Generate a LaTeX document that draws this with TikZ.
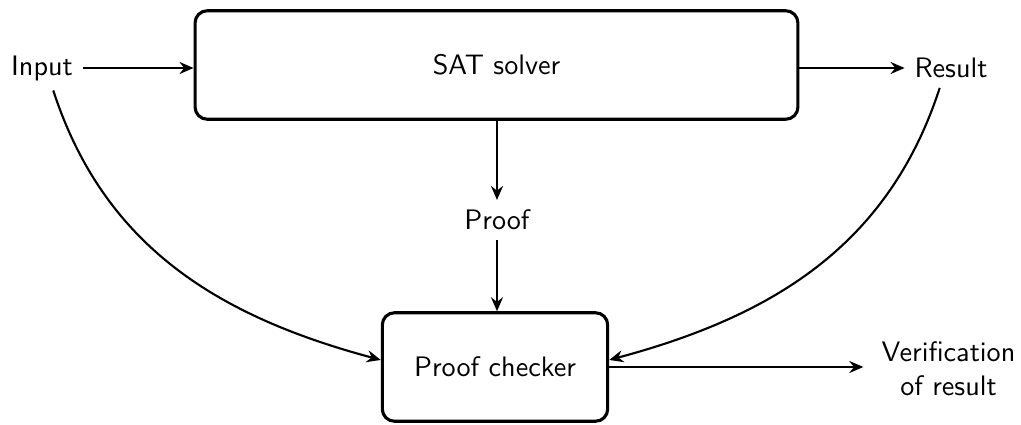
\documentclass[tikz,border=0pt]{standalone}
\usetikzlibrary{arrows.meta}
\begin{document}
\begin{tikzpicture}[x=0.355pt,y=-0.355pt,
  box/.style={draw,line width=1.1pt,rounded corners=4.3pt,font=\sffamily},
  lbl/.style={font=\sffamily},
  arr/.style={-{Stealth[length=5pt,width=4.3pt,inset=1.7pt]},line width=0.75pt}]
\useasboundingbox (0,0) rectangle (1021,425);
\node[box,minimum width=214pt,minimum height=38.5pt] (sat) at (496.5,65) {SAT solver};
\node[box,minimum width=80pt,minimum height=38.5pt] (chk) at (495,367) {Proof checker};
\node[lbl] (in) at (42,68) {Input};
\node[lbl] (res) at (951,68) {Result};
\node[lbl] (proof) at (497,220) {Proof};
\node[lbl,align=center] (ver) at (948.5,369) {Verification\\of result};
\draw[arr] (in) -- (in -| sat.west);
\draw[arr] (sat.east |- res) -- (res);
\draw[arr] (sat.south -| proof) -- (proof);
\draw[arr] (proof) -- (proof |- chk.north);
\draw[arr] ([xshift=4pt]in.south) to[out=-72,in=165] ([yshift=2.5pt]chk.west);
\draw[arr] ([xshift=-4pt]res.south) to[out=-108,in=15] ([yshift=2.5pt]chk.east);
\draw[arr] (chk.east) -- ([xshift=-3pt]ver.west |- chk.east);
\end{tikzpicture}
\end{document}
